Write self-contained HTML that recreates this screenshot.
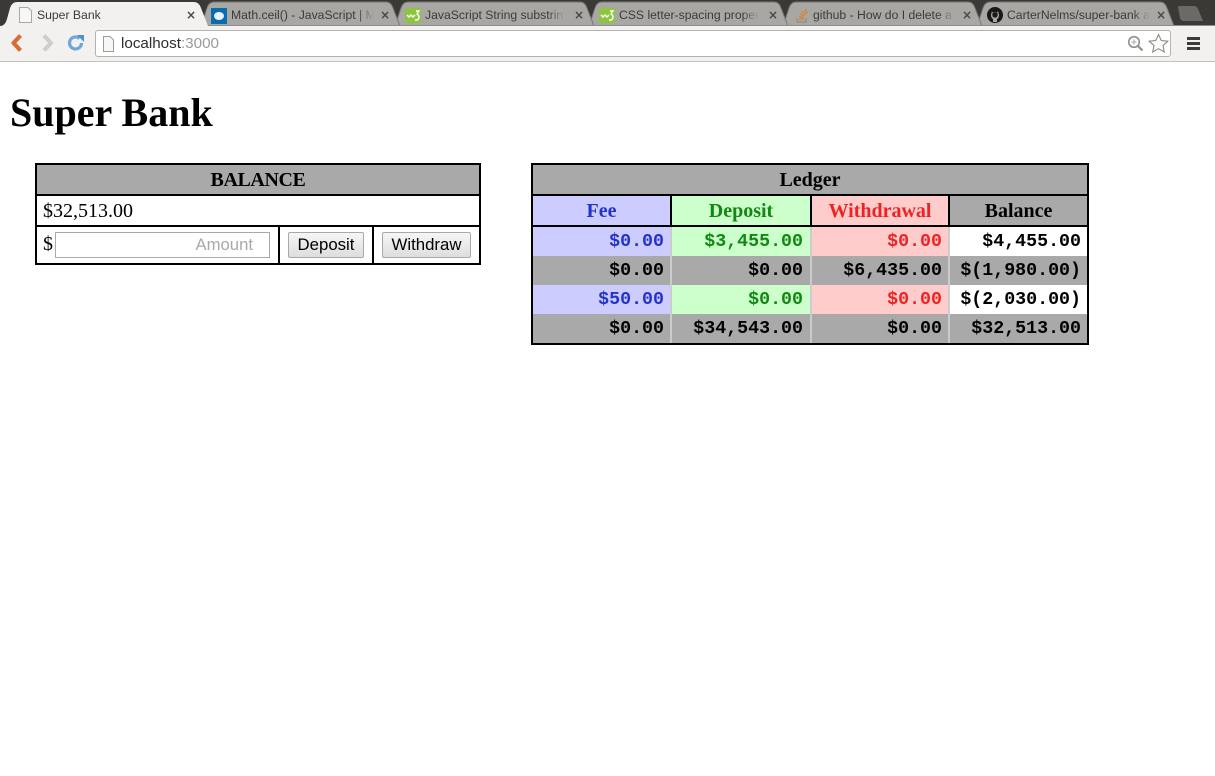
<!DOCTYPE html>
<html lang="en">
<head>
<meta charset="utf-8">
<title>Super Bank</title>
<style>
html,body{margin:0;padding:0;background:#fff;width:1215px;height:776px;overflow:hidden}
#page{position:relative;width:1215px;height:776px;overflow:hidden;background:#fff}
.a{position:absolute}
.t{position:absolute;white-space:nowrap;overflow:hidden}
.tabt{position:absolute;top:7px;height:16px;font:12.2px/16px "Liberation Sans",sans-serif;color:#3c3b37;white-space:nowrap;overflow:hidden;-webkit-mask-image:linear-gradient(90deg,#000 88%,transparent);mask-image:linear-gradient(90deg,#000 88%,transparent)}
.x{position:absolute;top:7px;width:12px;height:16px;font:bold 12px/16px "DejaVu Sans",sans-serif;color:#4a4945;text-align:center}
.hd{position:absolute;font:bold 20px/31px "Liberation Serif",serif;text-align:center;white-space:nowrap}
.m{position:absolute;font:bold 18.3px/31px "Liberation Mono",monospace;text-align:right;white-space:nowrap}
.btn{position:absolute;box-sizing:border-box;top:232px;height:26px;border:1px solid #a9a9a9;border-radius:2px;background:linear-gradient(#f6f6f6,#dedede);font:16.8px/24px "Liberation Sans",sans-serif;color:#000;text-align:center;padding:0}
input::placeholder{color:#a9a9a9;opacity:1}
</style>
</head>
<body>
<div id="page">

<div class="a" style="left:0;top:0;width:1215px;height:26px;background:#3a3935"></div>

<svg class="a" style="left:0;top:0" width="1215" height="27">
  <path d="M1178 7 Q1178 6 1180 6 L1194 6 Q1197 6 1198 9 L1203 21 L1184 21 Q1181 21 1180 18 Z" fill="#6b6a66"/>
  <path d="M977 26 L983 8 Q985 2 990 2 L1160 2 Q1165 2 1167 8 L1174 26 Z" fill="#a8a7a4" stroke="#777672" stroke-width="1"/>
  <path d="M783 26 L789 8 Q791 2 796 2 L968 2 Q973 2 975 8 L982 26 Z" fill="#a8a7a4" stroke="#777672" stroke-width="1"/>
  <path d="M589 26 L595 8 Q597 2 602 2 L774 2 Q779 2 781 8 L788 26 Z" fill="#a8a7a4" stroke="#777672" stroke-width="1"/>
  <path d="M395 26 L401 8 Q403 2 408 2 L580 2 Q585 2 587 8 L594 26 Z" fill="#a8a7a4" stroke="#777672" stroke-width="1"/>
  <path d="M201 26 L207 8 Q209 2 214 2 L386 2 Q391 2 393 8 L400 26 Z" fill="#a8a7a4" stroke="#777672" stroke-width="1"/>
  <path d="M0 26 Q5 26 7 19 L10 8 Q12 2 17 2 L194 2 Q199 2 201 8 L208 26 Z" fill="#f2f1f0"/>
</svg>

<svg class="a" style="left:18px;top:7px" width="15" height="17"><path d="M1.500 .5H10L13.500 4V15.500H1.500Z" fill="#f7f7f7" stroke="#a9a9a7"/></svg>
<div class="tabt" style="left:37px;width:130px;-webkit-mask-image:none;mask-image:none">Super Bank</div>
<div class="x" style="left:185px">×</div>

<svg class="a" style="left:211px;top:8px" width="16" height="16"><rect width="16" height="16" fill="#0a6cb0"/><ellipse cx="8" cy="8" rx="5" ry="4" fill="#e8f2f8"/></svg>
<div class="tabt" style="left:231px;width:143px">Math.ceil() - JavaScript | M</div>
<div class="x" style="left:379px">×</div>

<svg class="a" style="left:405px;top:8px" width="16" height="15"><rect width="16" height="15" fill="#8cc63f"/><path d="M2 7l2 2 2-2 2 2 2-2M11 3h3l-2 3q2 1 2 3t-2 3h-2" fill="none" stroke="#fff" stroke-width="1.400"/></svg>
<div class="tabt" style="left:425px;width:140px">JavaScript String substrin</div>
<div class="x" style="left:573px">×</div>

<svg class="a" style="left:599px;top:8px" width="16" height="15"><rect width="16" height="15" fill="#8cc63f"/><path d="M2 7l2 2 2-2 2 2 2-2M11 3h3l-2 3q2 1 2 3t-2 3h-2" fill="none" stroke="#fff" stroke-width="1.400"/></svg>
<div class="tabt" style="left:619px;width:140px">CSS letter-spacing proper</div>
<div class="x" style="left:767px">×</div>

<svg class="a" style="left:795px;top:7px" width="15" height="16"><path d="M2 11v4h9v-4" fill="none" stroke="#8a8a86" stroke-width="1.200"/><path d="M4 12h5M4 10l5 .6M5 7l5 2M7 4l4 3.400M10 2l2.500 4.500" stroke="#d9822b" stroke-width="1.300" fill="none"/></svg>
<div class="tabt" style="left:813px;width:142px">github - How do I delete a</div>
<div class="x" style="left:961px">×</div>

<svg class="a" style="left:987px;top:7px" width="16" height="16"><circle cx="8" cy="8" r="8" fill="#191717"/><path d="M6 15v-3q-2-1-2-4 0-1 .6-2V4.500l1.700 .7h3.400l1.700-.7V6q.6 1 .6 2 0 3-2 4v3Z" fill="#a8a7a4"/><path d="M5.400 6.500q0-1 1-1h3.200q1 0 1 1v1.500q0 2-1.600 2.500h-2q-1.600-.5-1.600-2.500Z" fill="#191717"/></svg>
<div class="tabt" style="left:1007px;width:143px">CarterNelms/super-bank a</div>
<div class="x" style="left:1155px">×</div>

<div class="a" style="left:0;top:26px;width:1215px;height:35px;background:#f2f1f0"></div>
<div class="a" style="left:208px;top:25px;width:1007px;height:1px;background:#8d8c88"></div>
<div class="a" style="left:0;top:61px;width:1215px;height:1px;background:#c4c3c0"></div>

<svg class="a" style="left:10px;top:33px" width="15" height="20"><path d="M10.500 2.500L3.500 10l7 7.500" fill="none" stroke="#dc6a33" stroke-width="4.200" stroke-linejoin="round"/></svg>
<svg class="a" style="left:40px;top:33px" width="15" height="20"><path d="M4 2.500L11 10l-7 7.500" fill="none" stroke="#cfcec9" stroke-width="4.200" stroke-linejoin="round"/></svg>
<svg class="a" style="left:67px;top:34px" width="18" height="18"><path d="M14.500 9a6 6 0 1 1-2-4.500" fill="none" stroke="#6ca6da" stroke-width="3.200"/><path d="M10 1l7 0 0 7z" fill="#4f8fcc"/></svg>

<div class="a" style="left:95px;top:30px;width:1074px;height:25px;background:#fff;border:1px solid #b3b2ad;border-radius:3px"></div>
<svg class="a" style="left:102px;top:36px" width="13" height="16"><path d="M1.500 .5H8L11.500 4V15.500H1.500Z" fill="#f7f7f7" stroke="#9b9b98"/></svg>
<div class="t" style="left:121px;top:35px;font:15.200px/18px 'Liberation Sans',sans-serif;color:#2f2e2b">localhost<span style="color:#9a9a97">:3000</span></div>
<svg class="a" style="left:1127px;top:35px" width="17" height="17"><circle cx="7" cy="7" r="5.300" fill="none" stroke="#8f8f8b" stroke-width="1.600"/><path d="M11 11l4.500 4.500" stroke="#8f8f8b" stroke-width="2.200"/><path d="M4.500 7h5M7 4.500v5" stroke="#a5a5a1"/></svg>
<svg class="a" style="left:1148px;top:33px" width="21" height="20"><path d="M10.500 1.500l2.800 6 6.500 .7-4.800 4.400 1.300 6.400-5.800-3.300-5.800 3.300 1.300-6.400L1.200 8.200l6.500-.7z" fill="#fbfbfa" stroke="#8b8a86" stroke-width="1.100"/></svg>
<div class="a" style="left:1187px;top:37px;width:13px;height:3px;background:#3d3c38"></div>
<div class="a" style="left:1187px;top:42px;width:13px;height:3px;background:#3d3c38"></div>
<div class="a" style="left:1187px;top:47px;width:13px;height:3px;background:#3d3c38"></div>

<h1 class="t" style="left:10px;top:90px;margin:0;font:bold 40px/46px 'Liberation Serif',serif;color:#000">Super Bank</h1>

<!-- Balance panel -->
<div class="a" style="left:35px;top:163px;width:446px;height:102px;background:#000"></div>
<div class="hd" style="left:37px;top:165px;width:442px;height:29px;background:#a9a9a9;color:#000;letter-spacing:-.4px">BALANCE</div>
<div class="a" style="left:37px;top:196px;width:442px;height:29px;background:#fff"></div>
<div class="t" style="left:43px;top:197px;font:20px/29px 'Liberation Serif',serif;color:#000">$32,513.00</div>
<div class="a" style="left:37px;top:227px;width:241px;height:36px;background:#fff"></div>
<div class="a" style="left:280px;top:227px;width:92px;height:36px;background:#fff"></div>
<div class="a" style="left:374px;top:227px;width:105px;height:36px;background:#fff"></div>
<div class="t" style="left:43px;top:230px;font:20px/29px 'Liberation Serif',serif;color:#000">$</div>
<input class="a" style="left:55px;top:232px;width:215px;height:26px;box-sizing:border-box;border:1px solid #aaa;padding:0 16px 0 2px;margin:0;background:#fff;text-align:right;font:16.700px 'Liberation Sans',sans-serif;outline:none" placeholder="Amount">
<button class="btn" style="left:288px;width:76px">Deposit</button>
<button class="btn" style="left:382px;width:89px">Withdraw</button>

<!-- Ledger -->
<div class="a" style="left:531px;top:163px;width:558px;height:182px;background:#000"></div>
<div class="hd" style="left:533px;top:165px;width:554px;height:29px;background:#a9a9a9;color:#000">Ledger</div>

<div class="hd" style="left:533px;top:196px;width:137px;height:29px;background:#ccf;color:#23c">Fee</div>
<div class="hd" style="left:672px;top:196px;width:138px;height:29px;background:#cfc;color:#181">Deposit</div>
<div class="hd" style="left:812px;top:196px;width:136px;height:29px;background:#fcc;color:#e22">Withdrawal</div>
<div class="hd" style="left:950px;top:196px;width:137px;height:29px;background:#a9a9a9;color:#000">Balance</div>

<div class="a" style="left:533px;top:227px;width:554px;height:116px;background:#ccc"></div>

<div class="m" style="left:533px;top:227px;width:131px;height:29px;padding-right:6px;background:#ccf;color:#23c">$0.00</div>
<div class="m" style="left:672px;top:227px;width:131px;height:29px;padding-right:7px;background:#cfc;color:#181">$3,455.00</div>
<div class="m" style="left:812px;top:227px;width:130px;height:29px;padding-right:6px;background:#fcc;color:#e22">$0.00</div>
<div class="m" style="left:950px;top:227px;width:131px;height:29px;padding-right:6px;background:#fff;color:#000">$4,455.00</div>

<div class="m" style="left:533px;top:256px;width:131px;height:29px;padding-right:6px;background:#a9a9a9;color:#000">$0.00</div>
<div class="m" style="left:672px;top:256px;width:131px;height:29px;padding-right:7px;background:#a9a9a9;color:#000">$0.00</div>
<div class="m" style="left:812px;top:256px;width:130px;height:29px;padding-right:6px;background:#a9a9a9;color:#000">$6,435.00</div>
<div class="m" style="left:950px;top:256px;width:131px;height:29px;padding-right:6px;background:#a9a9a9;color:#000">$(1,980.00)</div>

<div class="m" style="left:533px;top:285px;width:131px;height:29px;padding-right:6px;background:#ccf;color:#23c">$50.00</div>
<div class="m" style="left:672px;top:285px;width:131px;height:29px;padding-right:7px;background:#cfc;color:#181">$0.00</div>
<div class="m" style="left:812px;top:285px;width:130px;height:29px;padding-right:6px;background:#fcc;color:#e22">$0.00</div>
<div class="m" style="left:950px;top:285px;width:131px;height:29px;padding-right:6px;background:#fff;color:#000">$(2,030.00)</div>

<div class="m" style="left:533px;top:314px;width:131px;height:29px;padding-right:6px;background:#a9a9a9;color:#000">$0.00</div>
<div class="m" style="left:672px;top:314px;width:131px;height:29px;padding-right:7px;background:#a9a9a9;color:#000">$34,543.00</div>
<div class="m" style="left:812px;top:314px;width:130px;height:29px;padding-right:6px;background:#a9a9a9;color:#000">$0.00</div>
<div class="m" style="left:950px;top:314px;width:131px;height:29px;padding-right:6px;background:#a9a9a9;color:#000">$32,513.00</div>

</div>
</body>
</html>
